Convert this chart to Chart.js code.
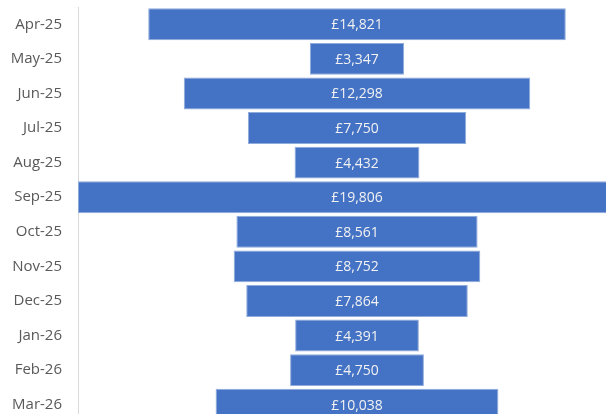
<!DOCTYPE html>
<html lang="en">
  <head>
    <meta charset="utf-8" />
    <title>Monthly funnel</title>
    <style>
      * {
        margin: 0;
        padding: 0;
      }
      body {
        width: 606px;
        height: 414px;
        overflow: hidden;
        background: white;
      }
      #myChart {
        position: absolute;
        left: 0;
        top: 0;
      }
    </style>
  </head>
  <body>
    <canvas id="myChart" width="636" height="422"></canvas>

    <script src="https://cdn.jsdelivr.net/npm/chart.js"></script>

    <script>
      // data block
      const months = ["Apr-25", "May-25", "Jun-25", "Jul-25", "Aug-25", "Sep-25",
        "Oct-25", "Nov-25", "Dec-25", "Jan-26", "Feb-26", "Mar-26"];
      const amounts = [14821, 3347, 12298, 7750, 4432, 19806,
        8561, 8752, 7864, 4391, 4750, 10038];

      const half = Math.max(...amounts) / 2;

      const data = {
        labels: months,
        datasets: [
          {
            label: "Amount",
            // funnel: each bar centred on zero
            data: amounts.map((v) => [-v / 2, v / 2]),
            backgroundColor: "#4472C4",
            borderColor: "#8FAADC",
            borderWidth: 1,
            borderSkipped: false,
            categoryPercentage: 1,
            barPercentage: 0.925,
          },
        ],
      };

      // value labels in the middle of each bar
      const barLabels = {
        id: "barLabels",
        afterDatasetsDraw(chart) {
          const { ctx } = chart;
          ctx.save();
          ctx.font = "14px 'Open Sans', sans-serif";
          ctx.fillStyle = "#F2F2F2";
          ctx.textAlign = "center";
          ctx.textBaseline = "middle";
          chart.getDatasetMeta(0).data.forEach((bar, i) => {
            const text = "£" + amounts[i].toLocaleString("en-GB");
            ctx.fillText(text, (bar.x + bar.base) / 2, bar.y + 1);
          });
          ctx.restore();
        },
      };

      // config block
      const config = {
        type: "bar",
        data: data,
        options: {
          indexAxis: "y",
          responsive: false,
          animation: false,
          layout: { padding: { top: 7, right: 0, bottom: 0, left: 0 } },
          plugins: {
            legend: { display: false },
            tooltip: { enabled: false },
          },
          scales: {
            x: {
              display: false,
              min: -half,
              max: half,
            },
            y: {
              grid: { display: false },
              border: { display: true, color: "#D9D9D9", width: 1 },
              ticks: {
                color: "#595959",
                padding: 8,
                font: { family: "'Open Sans', sans-serif", size: 15 },
              },
              afterFit(scale) {
                scale.width = 78;
                scale.paddingTop = 0;
                scale.paddingBottom = 0;
              },
            },
          },
        },
        plugins: [barLabels],
      };

      // init render block
      const myChart = new Chart(document.getElementById("myChart"), config);
    </script>
  </body>
</html>
